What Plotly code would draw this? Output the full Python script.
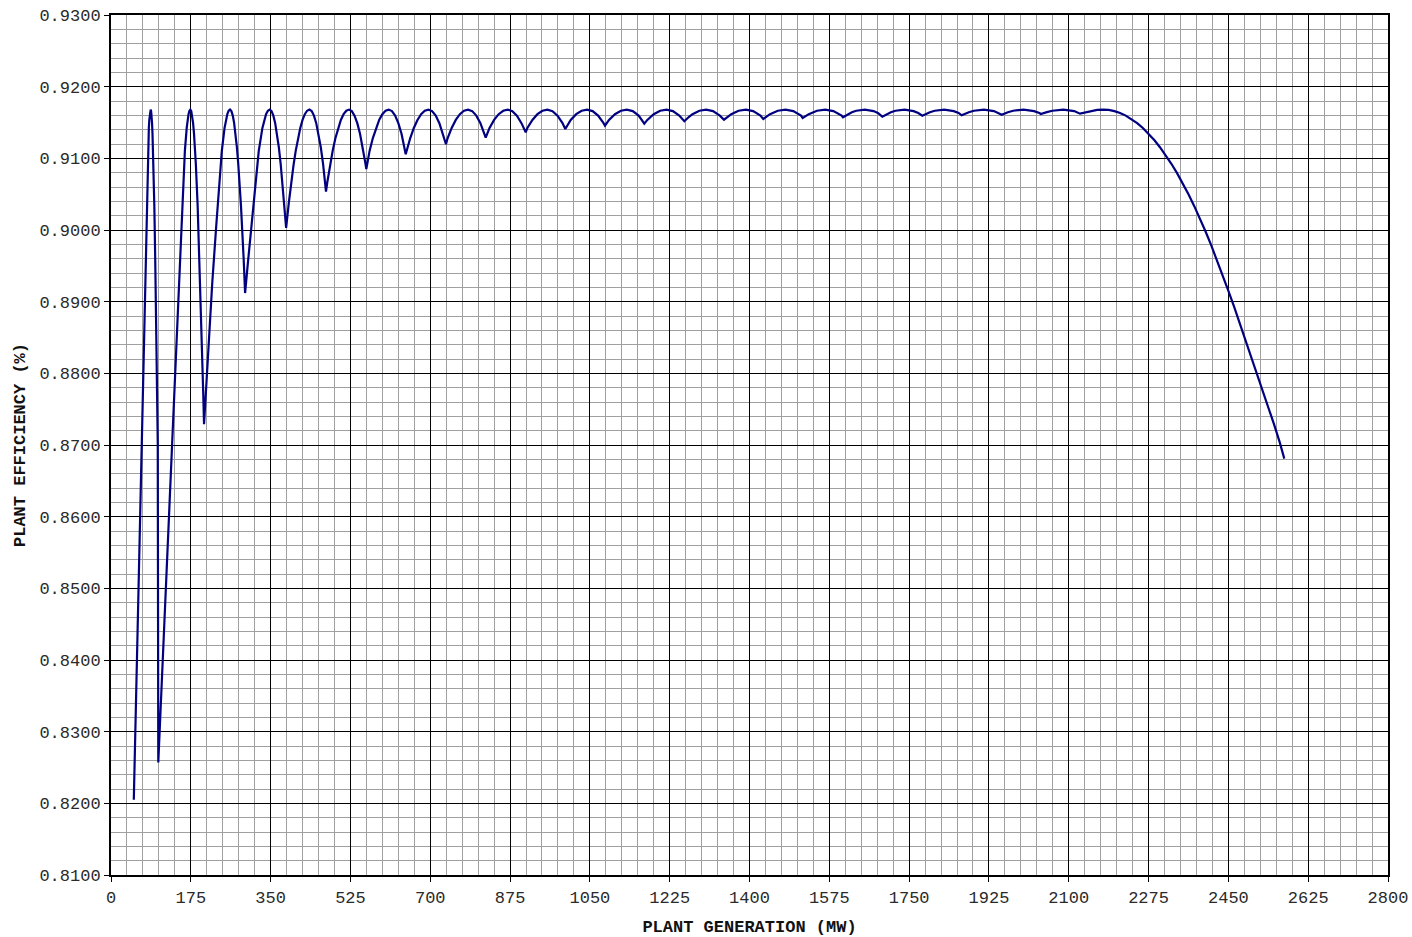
import plotly.graph_objects as go

# (plant generation MW, plant efficiency), arc by arc;
# each cusp is where the number of running units changes.
curve_readings = [
    # 1 unit
    (50, 0.8205), (56, 0.8378), (62, 0.8554), (68, 0.8729), (71, 0.8829), (74, 0.8926),
    (77, 0.9008), (79, 0.90656), (81, 0.91104), (83, 0.91424), (84, 0.91536), (85, 0.91616),
    (86, 0.91664), (87, 0.9168), (88, 0.91659), (89, 0.91596), (90, 0.91491), (91, 0.91344),
    (92, 0.91155), (93, 0.90924), (95, 0.90336), (97, 0.8958), (99, 0.8870), (101, 0.8777),
    (102.5, 0.8704),
    # 2 units
    (103.7, 0.8257), (112, 0.8378), (124, 0.8554), (136, 0.8729), (142, 0.8829), (148, 0.8926),
    (154, 0.9008), (158, 0.90656), (162, 0.91104), (166, 0.91424), (168, 0.91536), (170, 0.91616),
    (172, 0.91664), (174, 0.9168), (176, 0.91659), (178, 0.91596), (180, 0.91491), (182, 0.91344),
    (184, 0.91155), (186, 0.90924), (190, 0.90336), (194, 0.8958), (198, 0.8870), (202, 0.8777),
    # 3 units
    (204, 0.8729), (213, 0.8829), (222, 0.8926), (231, 0.9008), (237, 0.90656), (243, 0.91104),
    (249, 0.91424), (252, 0.91536), (255, 0.91616), (258, 0.91664), (261, 0.9168), (264, 0.91659),
    (267, 0.91596), (270, 0.91491), (273, 0.91344), (276, 0.91155), (279, 0.90924), (285, 0.90336),
    (291, 0.8958),
    # 4 units
    (294, 0.8912), (300, 0.8953), (308, 0.9008), (316, 0.90656), (324, 0.91104), (332, 0.91424),
    (336, 0.91536), (340, 0.91616), (344, 0.91664), (348, 0.9168), (352, 0.91659), (356, 0.91596),
    (360, 0.91491), (364, 0.91344), (368, 0.91155), (372, 0.90924), (376, 0.90651), (380, 0.90336),
    # 5 units
    (384, 0.9003), (390, 0.90384), (395, 0.90656), (400, 0.90896), (405, 0.91104), (410, 0.9128),
    (415, 0.91424), (420, 0.91536), (425, 0.91616), (430, 0.91664), (435, 0.9168), (440, 0.91659),
    (445, 0.91596), (450, 0.91491), (455, 0.91344), (460, 0.91155), (465, 0.90924), (470, 0.90651),
    # 6 units
    (471.4, 0.90535), (474, 0.90656), (480, 0.90896), (486, 0.91104), (492, 0.9128), (498, 0.91424),
    (504, 0.91536), (510, 0.91616), (516, 0.91664), (522, 0.9168), (528, 0.91659), (534, 0.91596),
    (540, 0.91491), (546, 0.91344), (552, 0.91155), (558, 0.90924),
    # 7 units
    (559.8, 0.90851), (567, 0.91104), (574, 0.9128), (581, 0.91424), (588, 0.91536), (595, 0.91616),
    (602, 0.91664), (609, 0.9168), (616, 0.91659), (623, 0.91596), (630, 0.91491), (637, 0.91344),
    (644, 0.91155),
    # 8 units
    (646.2, 0.91056), (656, 0.9128), (664, 0.91424), (672, 0.91536), (680, 0.91616), (688, 0.91664),
    (696, 0.9168), (704, 0.91659), (712, 0.91596), (720, 0.91491), (728, 0.91344),
    # 9 units
    (734.5, 0.91196), (738, 0.9128), (747, 0.91424), (756, 0.91536), (765, 0.91616), (774, 0.91664),
    (783, 0.9168), (792, 0.91659), (801, 0.91596), (810, 0.91491), (819, 0.91344),
    # 10 units
    (821.6, 0.91288), (830, 0.91424), (840, 0.91536), (850, 0.91616), (860, 0.91664), (870, 0.9168),
    (880, 0.91659), (890, 0.91596), (900, 0.91491),
    # 11 units
    (909.3, 0.91363), (913, 0.91424), (924, 0.91536), (935, 0.91616), (946, 0.91664), (957, 0.9168),
    (968, 0.91659), (979, 0.91596), (990, 0.91491),
    # 12 units
    (996.1, 0.91409), (1008, 0.91536), (1020, 0.91616), (1032, 0.91664), (1044, 0.9168),
    (1056, 0.91659), (1068, 0.91596), (1080, 0.91491),
    # 13 units
    (1083.2, 0.91455), (1092, 0.91536), (1105, 0.91616), (1118, 0.91664), (1131, 0.9168),
    (1144, 0.91659), (1157, 0.91596),
    # 14 units
    (1169.4, 0.91483), (1176, 0.91536), (1190, 0.91616), (1204, 0.91664), (1218, 0.9168),
    (1232, 0.91659), (1246, 0.91596),
    # 15 units
    (1257.1, 0.91517), (1267.5, 0.9158), (1275, 0.91616), (1290, 0.91664), (1305, 0.9168),
    (1320, 0.91659), (1335, 0.91596),
    # 16 units
    (1344.1, 0.91539), (1352, 0.9158), (1360, 0.91616), (1376, 0.91664), (1392, 0.9168),
    (1408, 0.91659), (1416, 0.91633), (1424, 0.91596),
    # 17 units
    (1430.2, 0.91549), (1436.5, 0.9158), (1445, 0.91616), (1462, 0.91664), (1479, 0.9168),
    (1496, 0.91659), (1504.5, 0.91633), (1513, 0.91596),
    # 18 units
    (1516.6, 0.91563), (1521, 0.9158), (1530, 0.91616), (1548, 0.91664), (1566, 0.9168),
    (1584, 0.91659), (1593, 0.91633), (1602, 0.91596),
    # 19 units
    (1604.9, 0.91573), (1615, 0.91616), (1624.5, 0.91644), (1634, 0.91664), (1653, 0.9168),
    (1672, 0.91659), (1681.5, 0.91633),
    # 20 units
    (1691.2, 0.91581), (1700, 0.91616), (1710, 0.91644), (1720, 0.91664), (1740, 0.9168),
    (1760, 0.91659), (1770, 0.91633),
    # 21 units
    (1778.9, 0.91595), (1785, 0.91616), (1795.5, 0.91644), (1806, 0.91664), (1827, 0.9168),
    (1848, 0.91659), (1858.5, 0.91633),
    # 22 units
    (1865.2, 0.91600), (1870, 0.91616), (1881, 0.91644), (1892, 0.91664), (1914, 0.9168),
    (1936, 0.91659), (1947, 0.91633),
    # 23 units
    (1953, 0.91609), (1966.5, 0.91644), (1978, 0.91664), (2001, 0.9168), (2024, 0.91659),
    (2035.5, 0.91633),
    # 24 units
    (2038.5, 0.91619), (2052, 0.91644), (2064, 0.91664), (2088, 0.9168), (2112, 0.91659),
    # 25 units
    (2124.7, 0.91623), (2137.5, 0.91644), (2150, 0.91664), (2162.5, 0.91676), (2175, 0.9168),
    (2187.5, 0.91676), (2200, 0.91659), (2212.5, 0.91633), (2225, 0.91596), (2237.5, 0.91549),
    (2250, 0.91491), (2262.5, 0.91423), (2275, 0.91344), (2287.5, 0.91255), (2300, 0.91155),
    (2312.5, 0.91045), (2325, 0.90924), (2337.5, 0.90793), (2350, 0.90651), (2362.5, 0.90499),
    (2375, 0.90336), (2387.5, 0.90163), (2400, 0.89979), (2412.5, 0.89785), (2425, 0.8958),
    (2437.5, 0.89365), (2450, 0.8915), (2462.5, 0.8893), (2475, 0.8870), (2487.5, 0.8847),
    (2500, 0.8824), (2512.5, 0.8801), (2525, 0.8777), (2537.5, 0.8753), (2550, 0.8729),
    (2562.5, 0.8704), (2572.6, 0.8681),
]
generation_mw = [p[0] for p in curve_readings]
plant_efficiency = [p[1] for p in curve_readings]

x_tick_values = [0, 175, 350, 525, 700, 875, 1050, 1225, 1400, 1575, 1750, 1925,
                 2100, 2275, 2450, 2625, 2800]
y_tick_values = [0.81, 0.82, 0.83, 0.84, 0.85, 0.86, 0.87, 0.88, 0.89, 0.90,
                 0.91, 0.92, 0.93]
x_title = "PLANT GENERATION (MW)"
y_title = "PLANT EFFICIENCY (%)"

FONT = "Liberation Mono, Courier New, monospace"

fig = go.Figure(
    go.Scatter(
        x=generation_mw,
        y=plant_efficiency,
        mode="lines",
        line=dict(color="#000080", width=2.2),
        hoverinfo="x+y",
    )
)

axis_common = dict(
    showline=True,
    linecolor="black",
    linewidth=2,
    mirror=True,
    ticks="outside",
    ticklen=5,
    tickwidth=1,
    tickcolor="black",
    showgrid=True,
    gridcolor="#000000",
    gridwidth=1,
    zeroline=False,
    automargin=False,
    tickfont=dict(family=FONT, size=17, color="#2a2a2a"),
)

fig.update_xaxes(
    range=[0, 2800],
    tickvals=x_tick_values,
    ticktext=[str(v) for v in x_tick_values],
    ticklabelstandoff=1,
    minor=dict(dtick=35, tick0=0, showgrid=True, gridcolor="#a0a0a0", gridwidth=1),
    title=dict(text="<b>" + x_title + "</b>",
               font=dict(family=FONT, size=17, color="#111111"), standoff=25),
    **axis_common,
)
fig.update_yaxes(
    range=[0.81, 0.93],
    tickvals=y_tick_values,
    ticktext=["%.4f" % v for v in y_tick_values],
    minor=dict(dtick=0.002, tick0=0.81, showgrid=True, gridcolor="#a0a0a0", gridwidth=1),
    title=dict(text="<b>" + y_title + "</b>",
               font=dict(family=FONT, size=17, color="#111111"), standoff=9),
    **axis_common,
)

fig.update_layout(
    width=1412,
    height=937,
    margin=dict(l=111, r=24, t=15, b=62),
    plot_bgcolor="white",
    paper_bgcolor="white",
    showlegend=False,
    font=dict(family=FONT, size=17, color="#2a2a2a"),
)

fig.write_html(
    "out.html",
    config={"displayModeBar": False},
    post_script="document.body.style.margin='0';",
)
